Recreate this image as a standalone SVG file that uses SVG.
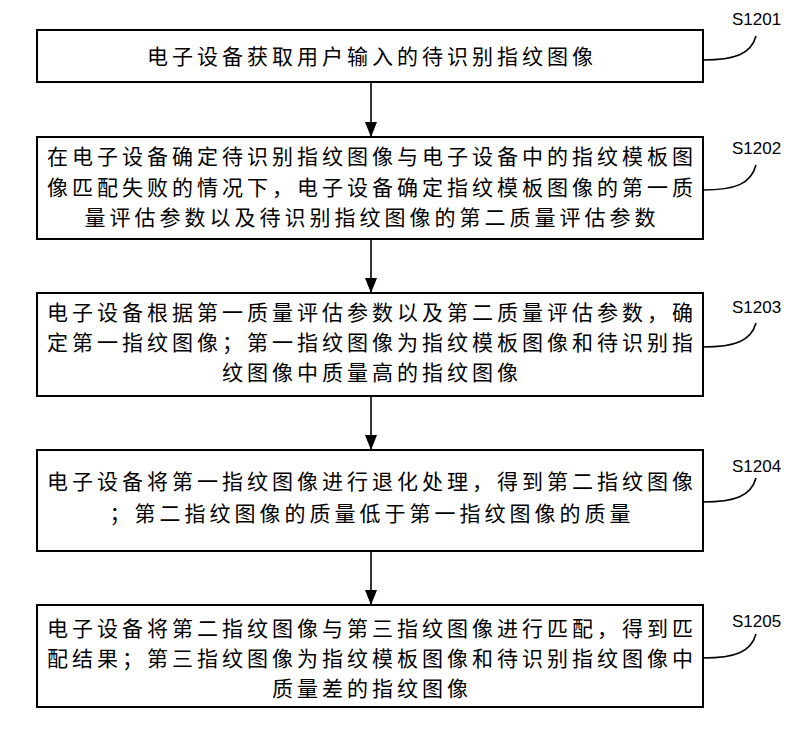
<svg xmlns="http://www.w3.org/2000/svg" width="797" height="730" viewBox="0 0 797 730">
<style>
.box{fill:#fff;stroke:#000;stroke-width:2}
.t{font-family:"Noto Sans CJK SC","Noto Sans",sans-serif;font-size:21px;letter-spacing:4px;fill:#000;text-anchor:middle}
.lbl{font-family:"Liberation Sans",Arial,sans-serif;font-size:17px;fill:#000}
.lead{fill:none;stroke:#000;stroke-width:1.6}
.arr{stroke:#000;stroke-width:1.6}
</style>
<defs>
<marker id="ah2" markerWidth="15" markerHeight="12" refX="15" refY="6" orient="auto" markerUnits="userSpaceOnUse" viewBox="0 0 15 12">
<path d="M0,0 L15,6 L0,12 Z" fill="#000"/>
</marker>
</defs>
<rect width="797" height="730" fill="#fff"/>
<g id="connectors">
<line class="arr" x1="371" y1="82" x2="371" y2="137" marker-end="url(#ah2)"/>
<line class="arr" x1="371" y1="239" x2="371" y2="293" marker-end="url(#ah2)"/>
<line class="arr" x1="371" y1="396" x2="371" y2="450" marker-end="url(#ah2)"/>
<line class="arr" x1="371" y1="551" x2="371" y2="605" marker-end="url(#ah2)"/>
</g>
<g id="s1201">
<rect class="box" x="37" y="30" width="666" height="52"/>
<text class="t" x="372" y="64">电子设备获取用户输入的待识别指纹图像</text>
<path class="lead" d="M703,60 C735,60 751,54 756,36"/>
<text class="lbl" x="732" y="25">S1201</text>
</g>
<g id="s1202">
<rect class="box" x="37" y="137" width="666" height="102"/>
<text class="t" x="372" y="164">在电子设备确定待识别指纹图像与电子设备中的指纹模板图</text>
<text class="t" x="372" y="195">像匹配失败的情况下，电子设备确定指纹模板图像的第一质</text>
<text class="t" x="372" y="225">量评估参数以及待识别指纹图像的第二质量评估参数</text>
<path class="lead" d="M703,190 C735,190 751,184 756,165"/>
<text class="lbl" x="732" y="154">S1202</text>
</g>
<g id="s1203">
<rect class="box" x="37" y="293" width="666" height="103"/>
<text class="t" x="372" y="320">电子设备根据第一质量评估参数以及第二质量评估参数，确</text>
<text class="t" x="372" y="350">定第一指纹图像；第一指纹图像为指纹模板图像和待识别指</text>
<text class="t" x="372" y="380">纹图像中质量高的指纹图像</text>
<path class="lead" d="M703,347 C735,347 751,341 756,323"/>
<text class="lbl" x="732" y="313">S1203</text>
</g>
<g id="s1204">
<rect class="box" x="37" y="450" width="666" height="101"/>
<text class="t" x="372" y="489">电子设备将第一指纹图像进行退化处理，得到第二指纹图像</text>
<text class="t" x="372" y="521">；第二指纹图像的质量低于第一指纹图像的质量</text>
<path class="lead" d="M703,502 C735,502 751,496 756,478"/>
<text class="lbl" x="732" y="472">S1204</text>
</g>
<g id="s1205">
<rect class="box" x="37" y="605" width="666" height="102"/>
<text class="t" x="372" y="636">电子设备将第二指纹图像与第三指纹图像进行匹配，得到匹</text>
<text class="t" x="372" y="666">配结果；第三指纹图像为指纹模板图像和待识别指纹图像中</text>
<text class="t" x="372" y="696">质量差的指纹图像</text>
<path class="lead" d="M703,658 C735,658 751,652 756,634"/>
<text class="lbl" x="732" y="627">S1205</text>
</g>
</svg>
